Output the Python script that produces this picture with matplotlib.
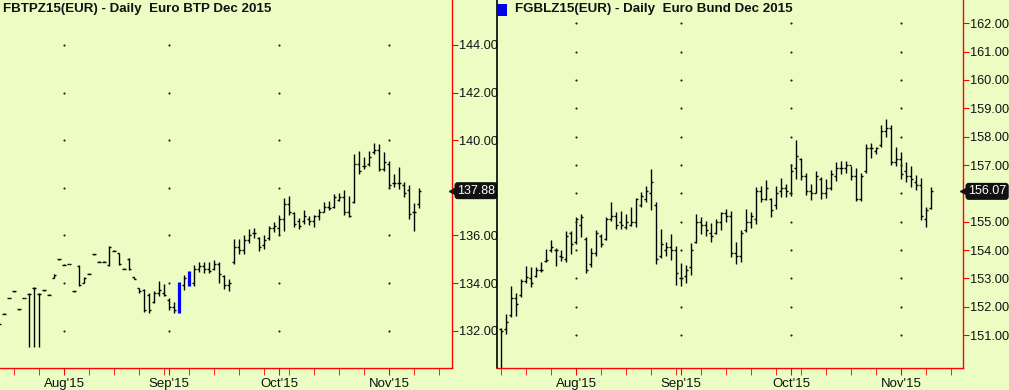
import matplotlib
matplotlib.use('Agg')
import matplotlib.pyplot as plt
import matplotlib.patches as patches
import matplotlib.transforms as mtransforms
import numpy as np
import pandas as pd

plt.rcParams['font.family'] = ['Liberation Sans', 'DejaVu Sans']

# --- Euro BTP Dec 2015 (daily, from 2015-07-15) ---
btp_start = '2015-07-15'
btp_title = 'FBTPZ15(EUR) - Daily  Euro BTP Dec 2015'
btp_open = [132.28, 132.70, 133.37, 133.66, 132.90, 133.37, 133.55, 133.80, 133.55, 133.70,
            133.50, 134.20, 135.00, 134.76, 134.80, 133.66, 134.70, 134.00, 134.40, 135.20,
            134.90, 134.90, 134.75, 135.35, 135.25, 134.60, 135.00, 134.25, 133.80, 133.70,
            133.50, 133.20, 133.60, 133.60, 133.30, 133.00, 132.80, 133.90, 133.90, 134.00,
            134.60, 134.70, 134.60, 134.60, 134.80, 134.30, 133.90, 134.90, 135.50, 135.40,
            135.80, 136.10, 135.90, 135.60, 135.90, 136.30, 136.30, 136.70, 137.30, 136.95,
            136.60, 136.60, 136.70, 136.60, 136.80, 137.00, 137.20, 137.20, 137.50, 137.60,
            137.00, 137.40, 139.00, 138.90, 139.00, 139.50, 139.60, 138.80, 139.00, 138.20,
            138.20, 138.10, 137.90, 137.00, 137.30]
btp_high = [132.30, 132.72, 133.39, 133.68, 132.92, 133.39, 133.58, 133.83, 133.58, 133.72,
            133.52, 134.40, 135.02, 134.78, 134.82, 133.68, 134.76, 134.25, 134.42, 135.22,
            134.92, 134.92, 135.55, 135.37, 135.25, 134.62, 135.05, 134.25, 133.80, 133.75,
            133.60, 133.66, 134.08, 133.95, 133.37, 133.20, 134.04, 134.34, 134.50, 134.76,
            134.90, 134.90, 134.90, 134.95, 134.90, 134.34, 134.17, 135.85, 135.85, 136.00,
            136.27, 136.30, 135.93, 136.00, 136.40, 136.56, 136.86, 137.57, 137.65, 137.00,
            136.73, 137.07, 136.80, 136.86, 137.10, 137.40, 137.44, 137.74, 137.78, 137.90,
            137.65, 139.40, 139.55, 139.30, 139.55, 139.90, 139.84, 139.50, 139.13, 138.58,
            138.87, 138.24, 138.10, 137.36, 137.99]
btp_low = [132.26, 132.68, 133.35, 133.64, 132.88, 133.35, 131.31, 131.31, 131.31, 133.68,
           133.48, 134.20, 134.98, 134.74, 134.78, 133.64, 133.87, 134.00, 134.38, 135.18,
           134.88, 134.88, 134.70, 135.33, 134.75, 134.58, 134.55, 134.15, 133.60, 132.80,
           132.75, 133.16, 133.45, 133.45, 132.87, 132.75, 132.75, 133.70, 133.87, 133.87,
           134.46, 134.43, 134.43, 134.55, 134.00, 133.75, 133.66, 134.80, 135.20, 135.20,
           135.68, 135.90, 135.35, 135.45, 135.80, 136.14, 136.00, 136.20, 136.86, 136.35,
           136.27, 136.50, 136.44, 136.35, 136.65, 137.00, 137.07, 137.15, 137.44, 136.86,
           136.77, 137.36, 138.60, 138.80, 138.90, 139.40, 138.70, 138.70, 138.00, 138.03,
           137.95, 137.60, 136.70, 136.20, 137.15]
btp_close = [132.28, 132.70, 133.37, 133.66, 132.90, 133.37, 133.55, 133.80, 133.55, 133.70,
             133.50, 134.35, 135.00, 134.76, 134.80, 133.66, 133.90, 134.20, 134.40, 135.20,
             134.90, 134.90, 135.50, 135.35, 134.80, 134.60, 134.60, 134.15, 133.65, 132.85,
             132.85, 133.60, 133.70, 133.50, 133.00, 132.85, 134.00, 134.20, 134.45, 134.60,
             134.70, 134.60, 134.50, 134.80, 134.40, 133.90, 134.00, 135.50, 135.40, 135.80,
             136.00, 136.10, 135.50, 135.80, 136.30, 136.40, 136.70, 137.30, 137.00, 136.50,
             136.40, 136.80, 136.60, 136.80, 137.00, 137.20, 137.15, 137.60, 137.60, 137.00,
             136.80, 139.00, 138.70, 138.90, 139.30, 139.60, 138.80, 139.10, 138.10, 138.20,
             138.20, 137.80, 136.90, 137.00, 137.88]
btp_blue = [36, 38]
btp_ticks = [132, 134, 136, 138, 140, 142, 144]

# --- Euro Bund Dec 2015 (daily, from 2015-07-13) ---
bund_start = '2015-07-13'
bund_title = 'FGBLZ15(EUR) - Daily  Euro Bund Dec 2015'
bund_open = [151.20, 151.20, 151.70, 152.30, 152.40, 152.90, 153.00, 153.10, 153.30, 153.60,
             154.00, 154.00, 153.80, 153.70, 154.60, 154.30, 154.90, 154.40, 153.50, 153.90,
             154.50, 154.40, 155.10, 155.20, 155.00, 154.80, 154.90, 155.00, 155.60, 155.80,
             156.00, 155.60, 153.80, 154.00, 154.10, 154.00, 153.00, 153.10, 153.40, 154.30,
             155.00, 154.90, 154.60, 154.60, 155.00, 155.30, 155.20, 153.90, 153.80, 154.70,
             155.00, 155.10, 156.10, 155.80, 155.80, 155.60, 156.10, 156.20, 156.00, 156.90,
             157.20, 156.60, 156.10, 156.00, 156.50, 156.00, 156.20, 156.60, 156.90, 156.90,
             157.00, 156.60, 155.80, 156.80, 157.60, 157.50, 157.70, 158.20, 158.30, 157.10,
             157.20, 156.80, 156.60, 156.40, 156.30, 155.10, 155.50]
bund_high = [151.25, 151.74, 152.73, 152.48, 152.97, 153.43, 153.40, 153.40, 153.58, 154.04,
             154.35, 154.07, 154.00, 154.67, 154.67, 155.17, 155.27, 154.46, 154.07, 154.70,
             154.57, 155.17, 155.70, 155.35, 155.38, 155.27, 155.52, 155.84, 156.05, 156.26,
             156.86, 155.70, 154.74, 154.28, 154.57, 154.14, 153.54, 153.47, 154.25, 155.27,
             155.17, 155.03, 154.96, 155.10, 155.35, 155.45, 155.38, 154.28, 154.70, 155.45,
             155.35, 156.23, 156.26, 156.47, 155.84, 156.26, 156.54, 156.33, 157.03, 157.88,
             157.25, 156.72, 156.33, 156.79, 156.58, 156.50, 156.83, 157.10, 157.14, 157.14,
             156.97, 156.90, 156.72, 157.74, 157.78, 157.64, 158.42, 158.63, 158.42, 157.64,
             157.46, 157.10, 156.97, 156.65, 156.54, 155.52, 156.23]
bund_low = [149.50, 151.04, 151.64, 151.67, 152.34, 152.83, 152.70, 153.05, 153.22, 153.58,
            153.93, 153.43, 153.60, 153.58, 153.86, 154.21, 154.46, 153.19, 153.40, 153.80,
            154.11, 154.36, 155.03, 154.74, 154.74, 154.74, 154.85, 154.81, 155.52, 155.70,
            155.41, 153.50, 153.72, 153.79, 153.65, 152.76, 152.73, 152.83, 153.12, 154.25,
            154.57, 154.50, 154.28, 154.57, 154.70, 154.99, 153.75, 153.50, 153.58, 154.64,
            154.78, 154.92, 155.70, 155.77, 155.17, 155.45, 155.87, 155.87, 155.90, 156.50,
            156.47, 155.94, 155.77, 156.00, 155.80, 155.84, 156.12, 156.43, 156.68, 156.72,
            156.47, 155.73, 155.73, 156.72, 157.25, 157.39, 157.64, 157.99, 157.00, 156.97,
            156.50, 156.40, 156.23, 156.12, 155.06, 154.81, 155.45]
bund_close = [151.15, 151.45, 152.30, 152.10, 152.90, 153.05, 152.85, 153.30, 153.30, 153.65,
              154.10, 154.00, 153.75, 154.50, 154.20, 155.10, 155.15, 153.30, 153.90, 154.60,
              154.20, 155.10, 155.20, 154.90, 154.90, 155.00, 155.00, 155.80, 155.90, 156.10,
              156.40, 153.70, 154.20, 154.10, 154.00, 153.20, 153.00, 153.30, 154.00, 155.00,
              154.90, 154.70, 154.50, 155.00, 155.30, 155.20, 153.90, 153.80, 154.60, 155.00,
              155.20, 156.10, 155.80, 156.20, 155.40, 156.00, 156.20, 156.10, 156.80, 157.30,
              156.60, 156.10, 156.00, 156.60, 156.00, 156.20, 156.70, 156.90, 156.90, 157.00,
              156.60, 155.80, 156.60, 157.60, 157.60, 157.60, 158.20, 158.30, 157.10, 157.20,
              156.70, 156.60, 156.50, 156.30, 155.20, 155.40, 156.07]
bund_ticks = [151, 152, 153, 154, 155, 156, 157, 158, 159, 160, 161, 162]

BG = '#ecfdc4'
RED = '#ff0000'
W, H = 1009, 390

fig = plt.figure(figsize=(W / 100, H / 100), dpi=100, facecolor=BG)


def px_axes(x0, x1, y0, y1):
    return fig.add_axes([x0 / W, 1 - y1 / H, (x1 - x0) / W, (y1 - y0) / H])


def draw_panel(ax, start, o, h, l, c, yticks, xlim, ylim, blue=()):
    ax.set_facecolor(BG)
    n = len(o)
    for i in range(n):
        if i in blue:
            ax.vlines(i, l[i], h[i], color='#0000ff', lw=2.3)
            continue
        ax.vlines(i, l[i], h[i], color='black', lw=1.0)
        ax.hlines(o[i], i - 0.42, i, color='black', lw=1.0)
        ax.hlines(c[i], i, i + 0.42, color='black', lw=1.0)

    # trading-day calendar for axis ticks
    days = pd.bdate_range(start, '2015-11-30')
    mondays = [k for k, d in enumerate(days) if d.weekday() == 0]
    month_first = [k for k, d in enumerate(days) if k > 0 and d.month != days[k - 1].month]
    ax.set_xticks(month_first)
    ax.set_xticklabels([days[k].strftime("%b'%y") for k in month_first])
    ax.set_xticks(mondays, minor=True)

    # the tick hidden behind the last-price flag gets no label
    last = c[-1]
    ax.set_yticks(yticks)
    ax.set_yticklabels(['' if abs(v - last) < 0.5 else f'{v:.2f}' for v in yticks])
    ax.yaxis.tick_right()

    ax.set_xlim(*xlim)
    ax.set_ylim(*ylim)

    ax.tick_params(axis='both', which='both', direction='out', color=RED,
                   labelcolor='#111111')
    ax.tick_params(axis='x', which='both', length=5, pad=2, labelsize=9.5)
    ax.tick_params(axis='y', length=4, pad=1, labelsize=9.2)

    # dotted grid: single dots at month x positions and price ticks
    gx, gy = np.meshgrid(month_first, yticks)
    ax.plot(gx.ravel(), gy.ravel(), 's', ms=0.55, color='#222222', lw=0)

    for s in ['top', 'left']:
        ax.spines[s].set_visible(False)
    for s in ['right', 'bottom']:
        ax.spines[s].set_color(RED)
        ax.spines[s].set_linewidth(1.0)

    # last price flag
    trans = mtransforms.blended_transform_factory(ax.transAxes, ax.transData)
    ax.plot(1.0, last, marker='<', ms=5, color='#111111', transform=trans,
            clip_on=False, zorder=9)
    ax.annotate(f'{last:.2f}', xy=(1.0, last), xycoords=trans, xytext=(5, 0),
                textcoords='offset pixels', ha='left', va='center', color='white',
                fontsize=9, annotation_clip=False, zorder=10,
                bbox=dict(boxstyle='round,pad=0.2,rounding_size=0.25', fc='#111111', ec='none'))


ax1 = px_axes(0, 452, 0, 368)
ax2 = px_axes(497, 963, 0, 368)

draw_panel(ax1, btp_start, btp_open, btp_high, btp_low, btp_close, btp_ticks,
           (0.2, 90.6), (130.43, 145.89), blue=btp_blue)
draw_panel(ax2, bund_start, bund_open, bund_high, bund_low, bund_close, bund_ticks,
           (-0.8, 92.4), (149.84, 162.82))

ax2.spines['left'].set_visible(True)
ax2.spines['left'].set_color('black')
ax2.spines['left'].set_linewidth(1.2)

fig.text(3 / W, 1 - 3 / H, btp_title, ha='left', va='top', fontsize=9.6, fontweight='bold',
         color='#111111')
fig.text(515 / W, 1 - 3 / H, bund_title, ha='left', va='top', fontsize=9.6, fontweight='bold',
         color='#111111')
fig.patches.append(patches.Rectangle((497 / W, 1 - 16 / H), 10 / W, 12 / H,
                                     transform=fig.transFigure, fc='#0000ee', ec='none'))

fig.savefig('out.png', dpi=100, facecolor=BG)
